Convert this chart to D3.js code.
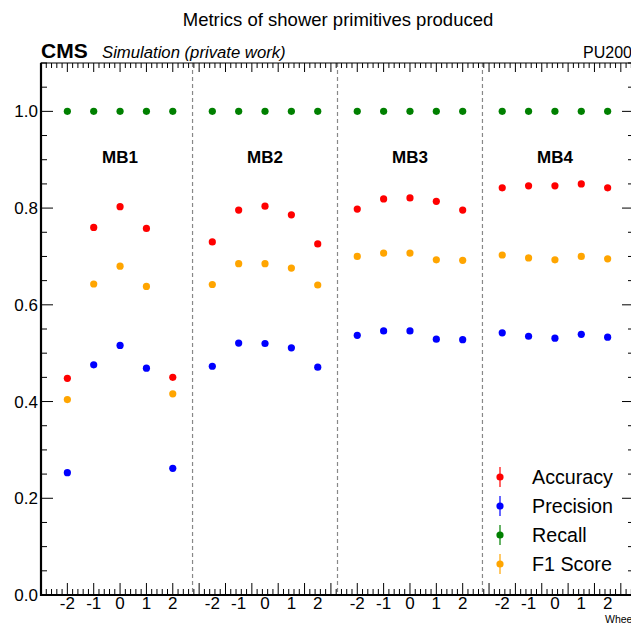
<!DOCTYPE html>
<html>
<head>
<meta charset="utf-8">
<script src="https://cdn.jsdelivr.net/npm/d3@7"></script>
<style>
  html, body { margin: 0; padding: 0; background: #fff; }
  svg { display: block; font-family: "Liberation Sans", Arial, Helvetica, sans-serif; }
</style>
</head>
<body>
<svg id="chart" width="631" height="629"></svg>
<script>
// Muon barrel stations and wheels
const stations = ["MB1", "MB2", "MB3", "MB4"];
const wheels = [-2, -1, 0, 1, 2];
const yTicks = [0.0, 0.2, 0.4, 0.6, 0.8, 1.0];

// Metric values per station, ordered by wheel -2..2
const accuracy = [
  [0.448, 0.760, 0.803, 0.758, 0.450],
  [0.730, 0.796, 0.804, 0.786, 0.726],
  [0.798, 0.819, 0.821, 0.814, 0.796],
  [0.842, 0.846, 0.846, 0.850, 0.842]
];
const precision = [
  [0.253, 0.476, 0.516, 0.469, 0.262],
  [0.473, 0.521, 0.520, 0.511, 0.471],
  [0.537, 0.546, 0.546, 0.529, 0.528],
  [0.542, 0.535, 0.531, 0.539, 0.533]
];
const recall = [
  [1.0, 1.0, 1.0, 1.0, 1.0],
  [1.0, 1.0, 1.0, 1.0, 1.0],
  [1.0, 1.0, 1.0, 1.0, 1.0],
  [1.0, 1.0, 1.0, 1.0, 1.0]
];
const f1score = [
  [0.404, 0.643, 0.680, 0.638, 0.416],
  [0.642, 0.685, 0.685, 0.676, 0.641],
  [0.700, 0.707, 0.707, 0.693, 0.692],
  [0.703, 0.697, 0.693, 0.700, 0.695]
];

const seriesNames = ["Accuracy", "Precision", "Recall", "F1 Score"];
const seriesColors = ["#ff0000", "#0000ff", "#008000", "#ffa500"];
const seriesValues = [accuracy, precision, recall, f1score];

const stationStep = 5.5; // bins between consecutive stations on the x axis

const svg = d3.select("#chart");
const padL = 41, padR = 634, padT = 63, padB = 595;

const x = d3.scaleLinear().domain([-1, 21.5]).range([padL, padR]);
const y = d3.scaleLinear().domain([0, 1.1]).range([padB, padT]);
const pos = (s, wi) => s * stationStep + wi;

// Station separators, halfway between wheel +2 and the next wheel -2
const seps = d3.range(1, stations.length).map(s => (pos(s - 1, 4) + pos(s, 0)) / 2);
svg.append("g").selectAll("line").data(seps).join("line")
  .attr("x1", d => x(d)).attr("x2", d => x(d))
  .attr("y1", padT).attr("y2", padB)
  .attr("stroke", "#888").attr("stroke-width", 1.2)
  .attr("stroke-dasharray", "4,3");

// Frame
svg.append("rect").attr("x", padL).attr("y", padT)
  .attr("width", padR - padL).attr("height", padB - padT)
  .attr("fill", "none").attr("stroke", "#000").attr("stroke-width", 1);
svg.append("line").attr("x1", padL).attr("x2", padL).attr("y1", padT).attr("y2", padB + 1)
  .attr("stroke", "#000").attr("stroke-width", 2.2);
svg.append("line").attr("x1", padL).attr("x2", padR).attr("y1", padB).attr("y2", padB)
  .attr("stroke", "#000").attr("stroke-width", 2.2);

// Y ticks (left and right)
const yMinor = d3.range(0, 1.1001, 0.05);
const yMajor = d => Math.abs(d * 5 - Math.round(d * 5)) < 1e-6;
const yAx = svg.append("g");
yAx.selectAll("line.yl").data(yMinor).join("line").attr("class", "yl")
  .attr("x1", padL).attr("x2", d => padL + (yMajor(d) ? 12 : 6))
  .attr("y1", d => y(d)).attr("y2", d => y(d))
  .attr("stroke", "#000").attr("stroke-width", 1);
yAx.selectAll("line.yr").data(yMinor).join("line").attr("class", "yr")
  .attr("x2", padR).attr("x1", d => padR - (yMajor(d) ? 12 : 6))
  .attr("y1", d => y(d)).attr("y2", d => y(d))
  .attr("stroke", "#000").attr("stroke-width", 1);
yAx.selectAll("text").data(yTicks).join("text")
  .attr("x", padL - 3).attr("y", d => y(d)).attr("dy", "0.36em")
  .attr("text-anchor", "end").attr("font-size", 17)
  .text(d => d3.format(".1f")(d));

// X ticks (bottom and top)
const xMinor = d3.range(-1, 21.5001, 0.2);
const isMajor = d => Math.abs(d - Math.round(d)) < 1e-6;
const xAx = svg.append("g");
xAx.selectAll("line.xb").data(xMinor).join("line").attr("class", "xb")
  .attr("x1", d => x(d)).attr("x2", d => x(d))
  .attr("y1", padB).attr("y2", d => padB - (isMajor(d) ? 12 : 6))
  .attr("stroke", "#000").attr("stroke-width", 1);
xAx.selectAll("line.xt").data(xMinor).join("line").attr("class", "xt")
  .attr("x1", d => x(d)).attr("x2", d => x(d))
  .attr("y1", padT).attr("y2", d => padT + (isMajor(d) ? 9 : 5))
  .attr("stroke", "#000").attr("stroke-width", 1);

const xLabels = [];
stations.forEach((st, s) => wheels.forEach((w, wi) => xLabels.push({ p: pos(s, wi), w })));
xAx.selectAll("text").data(xLabels).join("text")
  .attr("x", d => x(d.p)).attr("y", padB + 14)
  .attr("text-anchor", "middle").attr("font-size", 17)
  .text(d => d.w);

svg.append("text").attr("x", 605).attr("y", 623)
  .attr("font-size", 10.5).text("Wheel");

// Station labels
svg.append("g").selectAll("text").data(stations).join("text")
  .attr("x", (d, s) => x(pos(s, 2))).attr("y", 163)
  .attr("text-anchor", "middle").attr("font-size", 17).attr("font-weight", "bold")
  .text(d => d);

// Markers
const pts = [];
seriesValues.forEach((vals, k) => vals.forEach((row, s) => row.forEach((v, wi) =>
  pts.push({ k, p: pos(s, wi), v }))));
svg.append("g").selectAll("circle").data(pts).join("circle")
  .attr("cx", d => x(d.p)).attr("cy", d => y(d.v)).attr("r", 3.6)
  .attr("fill", d => seriesColors[d.k]);

// Legend
const leg = svg.append("g").selectAll("g").data(seriesNames).join("g")
  .attr("transform", (d, i) => `translate(500, ${477 + i * 29})`);
leg.append("line").attr("x1", 0).attr("x2", 0).attr("y1", -10).attr("y2", 10)
  .attr("stroke", (d, i) => seriesColors[i]).attr("stroke-width", 1.2);
leg.append("circle").attr("r", 3.6).attr("fill", (d, i) => seriesColors[i]);
leg.append("text").attr("x", 32).attr("dy", "0.36em").attr("font-size", 19.7).text(d => d);

// Headers
svg.append("text").attr("x", 338).attr("y", 26).attr("text-anchor", "middle")
  .attr("font-size", 18.5).text("Metrics of shower primitives produced");
svg.append("text").attr("x", 41).attr("y", 58).attr("font-size", 21)
  .attr("font-weight", "bold").text("CMS");
svg.append("text").attr("x", 102).attr("y", 58).attr("font-size", 16.7)
  .attr("font-style", "italic").text("Simulation (private work)");
svg.append("text").attr("x", 583).attr("y", 58).attr("font-size", 16).text("PU200");
</script>
</body>
</html>
